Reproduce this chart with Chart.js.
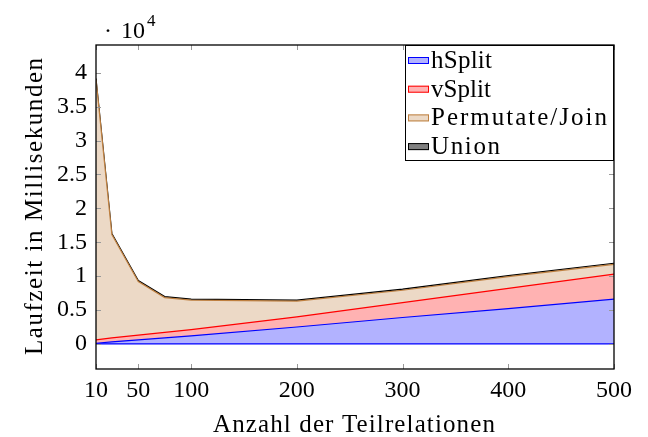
<!DOCTYPE html>
<html>
<head>
<meta charset="utf-8">
<script src="https://cdn.jsdelivr.net/npm/chart.js@4"></script>
<style>
  html, body { margin: 0; padding: 0; background: #fff; }
  #wrap { width: 648px; height: 437px; }
</style>
</head>
<body>
<div id="wrap"><canvas id="chart" width="648" height="437"></canvas></div>
<script>
// Data
const xValues = [10, 25, 50, 75, 100, 200, 300, 400, 500];
const hSplit = [100, 300, 600, 900, 1200, 2500, 3900, 5200, 6600];
const vSplit = [500, 600, 700, 800, 900, 1500, 2200, 3000, 3700];
const permJoin = [38400, 15250, 7890, 5130, 4350, 2300, 1820, 1720, 1450];
const union = [150, 150, 150, 150, 150, 150, 150, 150, 150];
const xTicks = [10, 50, 100, 200, 300, 400, 500];
const yTicks = [0, 5000, 10000, 15000, 20000, 25000, 30000, 35000, 40000];

const FONT = '"Liberation Serif", "DejaVu Serif", serif';

const series = [
    { label: 'hSplit', data: hSplit, line: '#0000ff', fill: 'rgba(0, 0, 255, 0.3)' },
    { label: 'vSplit', data: vSplit, line: '#ff0000', fill: 'rgba(255, 0, 0, 0.3)' },
    { label: 'Permutate/Join', data: permJoin, line: '#bf8040', fill: '#ecd9c6' },
    { label: 'Union', data: union, line: '#000000', fill: '#808080' }
];

function toPoints(arr) {
    return xValues.map((x, i) => ({ x: x, y: arr[i] }));
}

// draw text stretched to a given width (Computer Modern is wider than Times)
function fitText(ctx, text, x, y, width) {
    ctx.letterSpacing = '0px';
    const w = ctx.measureText(text).width;
    const sp = Math.max(0, (width - w) / (text.length - 1));
    ctx.letterSpacing = sp.toFixed(2) + 'px';
    ctx.fillText(text, x, y);
    ctx.letterSpacing = '0px';
}

// frame, inward ticks, legend and titles in pgfplots style
const pgfDecor = {
    id: 'pgfDecor',
    afterDatasetsDraw(chart) {
        const { ctx, chartArea: a, scales } = chart;
        const xs = scales.x, ys = scales.y;
        ctx.save();

        // base line of the lowest area
        ctx.strokeStyle = '#0000ff';
        ctx.lineWidth = 1.2;
        const y0 = ys.getPixelForValue(0);
        ctx.beginPath();
        ctx.moveTo(xs.getPixelForValue(xValues[0]), y0);
        ctx.lineTo(xs.getPixelForValue(xValues[xValues.length - 1]), y0);
        ctx.stroke();

        // ticks
        ctx.strokeStyle = '#999';
        ctx.lineWidth = 1;
        ctx.beginPath();
        xTicks.forEach(v => {
            const px = Math.round(xs.getPixelForValue(v)) + 0.5;
            ctx.moveTo(px, a.bottom); ctx.lineTo(px, a.bottom - 5);
            ctx.moveTo(px, a.top); ctx.lineTo(px, a.top + 5);
        });
        yTicks.forEach(v => {
            const py = Math.round(ys.getPixelForValue(v)) + 0.5;
            ctx.moveTo(a.left, py); ctx.lineTo(a.left + 5, py);
            ctx.moveTo(a.right, py); ctx.lineTo(a.right - 5, py);
        });
        ctx.stroke();

        // frame
        ctx.strokeStyle = '#000';
        ctx.lineWidth = 1.3;
        ctx.strokeRect(a.left, a.top, a.right - a.left, a.bottom - a.top);

        // legend
        const lx = 405, ly = a.top, lw = a.right - 405, lh = 116;
        ctx.fillStyle = '#fff';
        ctx.fillRect(lx, ly, lw, lh);
        ctx.lineWidth = 1;
        ctx.strokeRect(lx + 0.5, ly + 0.5, lw - 1, lh - 1);
        ctx.font = '25px ' + FONT;
        ctx.textBaseline = 'alphabetic';
        ctx.textAlign = 'left';
        const legendWidths = [61, 60, 176, 69];
        chart.data.datasets.forEach((ds, i) => {
            const cy = ly + 15 + i * 28.7;
            ctx.fillStyle = ds.backgroundColor;
            ctx.fillRect(408, cy - 3, 21, 7);
            ctx.strokeStyle = ds.borderColor;
            ctx.lineWidth = 1;
            ctx.strokeRect(408.5, cy - 2.5, 20, 6);
            ctx.fillStyle = '#000';
            fitText(ctx, ds.label, 431, cy + 8, legendWidths[i]);
        });

        // axis titles
        ctx.fillStyle = '#000';
        ctx.font = '25px ' + FONT;
        ctx.textAlign = 'left';
        fitText(ctx, 'Anzahl der Teilrelationen', 213, 432, 282);
        ctx.save();
        ctx.translate(42, 355);
        ctx.rotate(-Math.PI / 2);
        fitText(ctx, 'Laufzeit in Millisekunden', 0, 0, 297);
        ctx.restore();

        // scale factor label
        ctx.font = '24px ' + FONT;
        ctx.fillText('\u00b7', 104, 38);
        ctx.textAlign = 'right';
        ctx.fillText('10', 145, 38);
        ctx.textAlign = 'left';
        ctx.font = '17px ' + FONT;
        ctx.fillText('4', 147, 26);

        ctx.restore();
    }
};

const chart = new Chart(document.getElementById('chart'), {
    type: 'line',
    data: {
        datasets: series.map((s, i) => ({
            label: s.label,
            data: toPoints(s.data),
            borderColor: s.line,
            backgroundColor: s.fill,
            borderWidth: 1.2,
            pointRadius: 0,
            tension: 0,
            fill: i === 0 ? 'origin' : '-1'
        }))
    },
    options: {
        responsive: false,
        animation: false,
        layout: { padding: { left: 10, top: 45, right: 34, bottom: 0 } },
        plugins: {
            legend: { display: false },
            tooltip: { enabled: false }
        },
        scales: {
            x: {
                type: 'linear',
                min: 10,
                max: 500,
                grid: { display: false, drawTicks: false },
                border: { display: false },
                afterBuildTicks: s => { s.ticks = xTicks.map(v => ({ value: v })); },
                afterFit: s => { s.height = 68; },
                ticks: {
                    color: '#000',
                    padding: 7,
                    maxRotation: 0,
                    autoSkip: false,
                    font: { family: FONT, size: 24 }
                }
            },
            y: {
                stacked: true,
                min: -3700,
                max: 44100,
                grid: { display: false, drawTicks: false },
                border: { display: false },
                afterBuildTicks: s => { s.ticks = yTicks.map(v => ({ value: v })); },
                afterFit: s => { s.width = 86; },
                ticks: {
                    color: '#000',
                    padding: 9,
                    font: { family: FONT, size: 24 },
                    callback: v => String(v / 10000)
                }
            }
        }
    },
    plugins: [pgfDecor]
});
</script>
</body>
</html>
